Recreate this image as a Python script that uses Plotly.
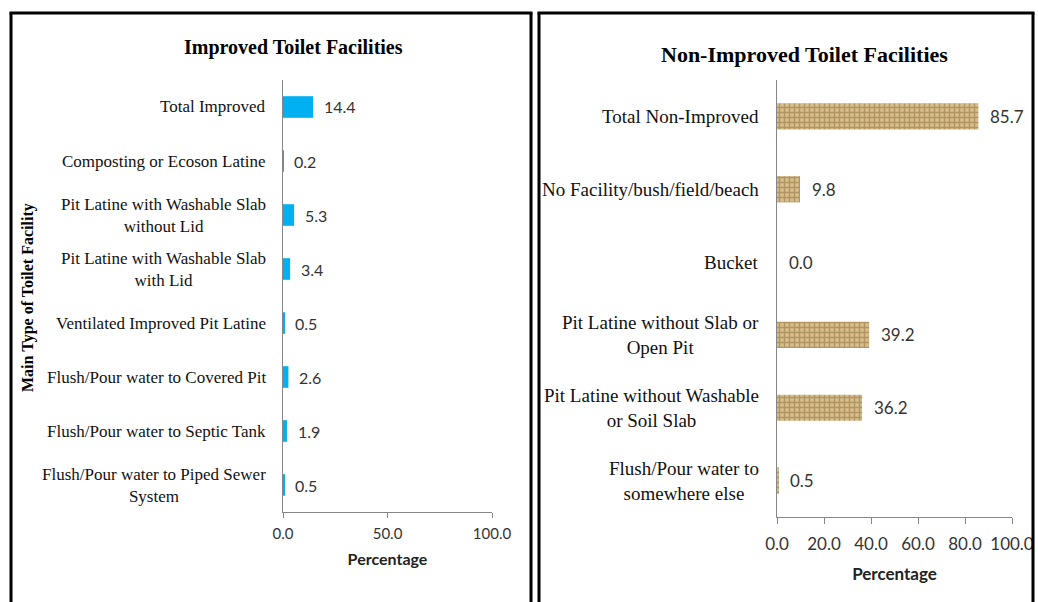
import plotly.graph_objects as go
from plotly.subplots import make_subplots

W, H = 1038, 602

improved_labels = [
    "Total Improved",
    "Composting or Ecoson Latine",
    "Pit Latine with Washable Slab<br>without Lid",
    "Pit Latine with Washable Slab<br>with Lid",
    "Ventilated Improved Pit Latine",
    "Flush/Pour water to Covered Pit",
    "Flush/Pour water to Septic Tank",
    "Flush/Pour water to Piped Sewer<br>System",
]
improved_values = [14.4, 0.2, 5.3, 3.4, 0.5, 2.6, 1.9, 0.5]

nonimproved_labels = [
    "Total Non-Improved",
    "No Facility/bush/field/beach",
    "Bucket",
    "Pit Latine without Slab or<br>Open Pit",
    "Pit Latine without Washable<br>or Soil Slab",
    "Flush/Pour water to<br>somewhere else",
]
nonimproved_values = [85.7, 9.8, 0.0, 39.2, 36.2, 0.5]


def px_x(p):
    return p / W


def px_y(p):
    return 1 - p / H


fig = make_subplots(rows=1, cols=2)

fig.add_trace(go.Bar(
    x=improved_values, y=improved_labels, orientation="h",
    marker=dict(color="#00B0F0", line=dict(width=0)),
    width=0.4, showlegend=False, hoverinfo="x+y",
), row=1, col=1)

# burlap-ish fill for the non-improved bars
fig.add_trace(go.Bar(
    x=nonimproved_values, y=nonimproved_labels, orientation="h",
    marker=dict(color="#c9a96c", line=dict(width=0),
                pattern=dict(shape="+", fgcolor="#8a6a3c", bgcolor="#d8bf8a",
                             size=5, solidity=0.5)),
    width=0.36, showlegend=False, hoverinfo="x+y",
), row=1, col=2)

axis_common = dict(showgrid=False, zeroline=False, showline=True, automargin=False,
                   linecolor="#868686", linewidth=1)
num_font = "Lato"
serif = "Liberation Serif"

fig.update_xaxes(domain=[px_x(283), px_x(492)], range=[0, 100], tickvals=[0, 50, 100],
                 tickformat=".1f", ticks="outside", ticklen=5, tickcolor="#868686",
                 ticklabelstandoff=3,
                 tickfont=dict(family=num_font, size=15, color="#333"),
                 title=dict(text="<b>Percentage</b>", font=dict(family=num_font, size=16, color="#222"),
                            standoff=12),
                 **axis_common, row=1, col=1)
fig.update_yaxes(domain=[px_y(512), px_y(80)], autorange="reversed", showticklabels=False,
                 ticks="", **axis_common, row=1, col=1)

fig.update_xaxes(domain=[px_x(777), px_x(1012)], range=[0, 100], tickvals=[0, 20, 40, 60, 80, 100],
                 tickformat=".1f", ticks="outside", ticklen=6, tickcolor="#868686",
                 ticklabelstandoff=6,
                 tickfont=dict(family=num_font, size=17, color="#333"),
                 title=dict(text="<b>Percentage</b>", font=dict(family=num_font, size=17, color="#222"),
                            standoff=14),
                 **axis_common, row=1, col=2)
fig.update_yaxes(domain=[px_y(517), px_y(80)], autorange="reversed", showticklabels=False,
                 ticks="", **axis_common, row=1, col=2)

annotations = []

# category labels and value labels, left panel
for lab, val in zip(improved_labels, improved_values):
    annotations.append(dict(x=0, xref="x domain", y=lab, yref="y", text=lab,
                            xanchor="right", yanchor="middle", align="center", xshift=-15,
                            showarrow=False, font=dict(family=serif, size=17, color="#111")))
    annotations.append(dict(x=val, xref="x", y=lab, yref="y", text=f"{val:.1f}",
                            xanchor="left", yanchor="middle", xshift=9,
                            showarrow=False, font=dict(family=num_font, size=16, color="#333")))

# right panel
for lab, val in zip(nonimproved_labels, nonimproved_values):
    annotations.append(dict(x=0, xref="x2 domain", y=lab, yref="y2", text=lab,
                            xanchor="right", yanchor="middle", align="center", xshift=-16,
                            showarrow=False, font=dict(family=serif, size=19, color="#111")))
    annotations.append(dict(x=val, xref="x2", y=lab, yref="y2", text=f"{val:.1f}",
                            xanchor="left", yanchor="middle", xshift=10,
                            showarrow=False, font=dict(family=num_font, size=17, color="#333")))

annotations += [
    dict(x=px_x(293), y=px_y(47), xref="paper", yref="paper", text="<b>Improved Toilet Facilities</b>",
         showarrow=False, xanchor="center", yanchor="middle",
         font=dict(family=serif, size=20, color="#000")),
    dict(x=px_x(804), y=px_y(55), xref="paper", yref="paper", text="<b>Non-Improved Toilet Facilities</b>",
         showarrow=False, xanchor="center", yanchor="middle",
         font=dict(family=serif, size=22, color="#000")),
    dict(x=px_x(28), y=px_y(298), xref="paper", yref="paper", text="<b>Main Type of Toilet Facility</b>",
         showarrow=False, textangle=-90, xanchor="center", yanchor="middle",
         font=dict(family=serif, size=16, color="#000")),
]

# panel frames (open at the bottom)
frame = dict(type="line", xref="paper", yref="paper", line=dict(color="#000", width=3))
shapes = []
for left, right in [(11, 531), (539, 1033)]:
    shapes.append(dict(frame, x0=px_x(left), x1=px_x(left), y0=px_y(13), y1=px_y(610)))
    shapes.append(dict(frame, x0=px_x(right), x1=px_x(right), y0=px_y(13), y1=px_y(610)))
    shapes.append(dict(frame, x0=px_x(left - 1.5), x1=px_x(right + 1.5), y0=px_y(13), y1=px_y(13)))

fig.update_layout(
    width=W, height=H,
    margin=dict(l=0, r=0, t=0, b=0),
    paper_bgcolor="white", plot_bgcolor="white",
    annotations=annotations, shapes=shapes,
)

# drop the default page margin so the figure fills the window exactly
fig.write_html("out.html", config={"displayModeBar": False},
               post_script="document.body.style.margin='0';document.body.style.overflow='hidden';")
